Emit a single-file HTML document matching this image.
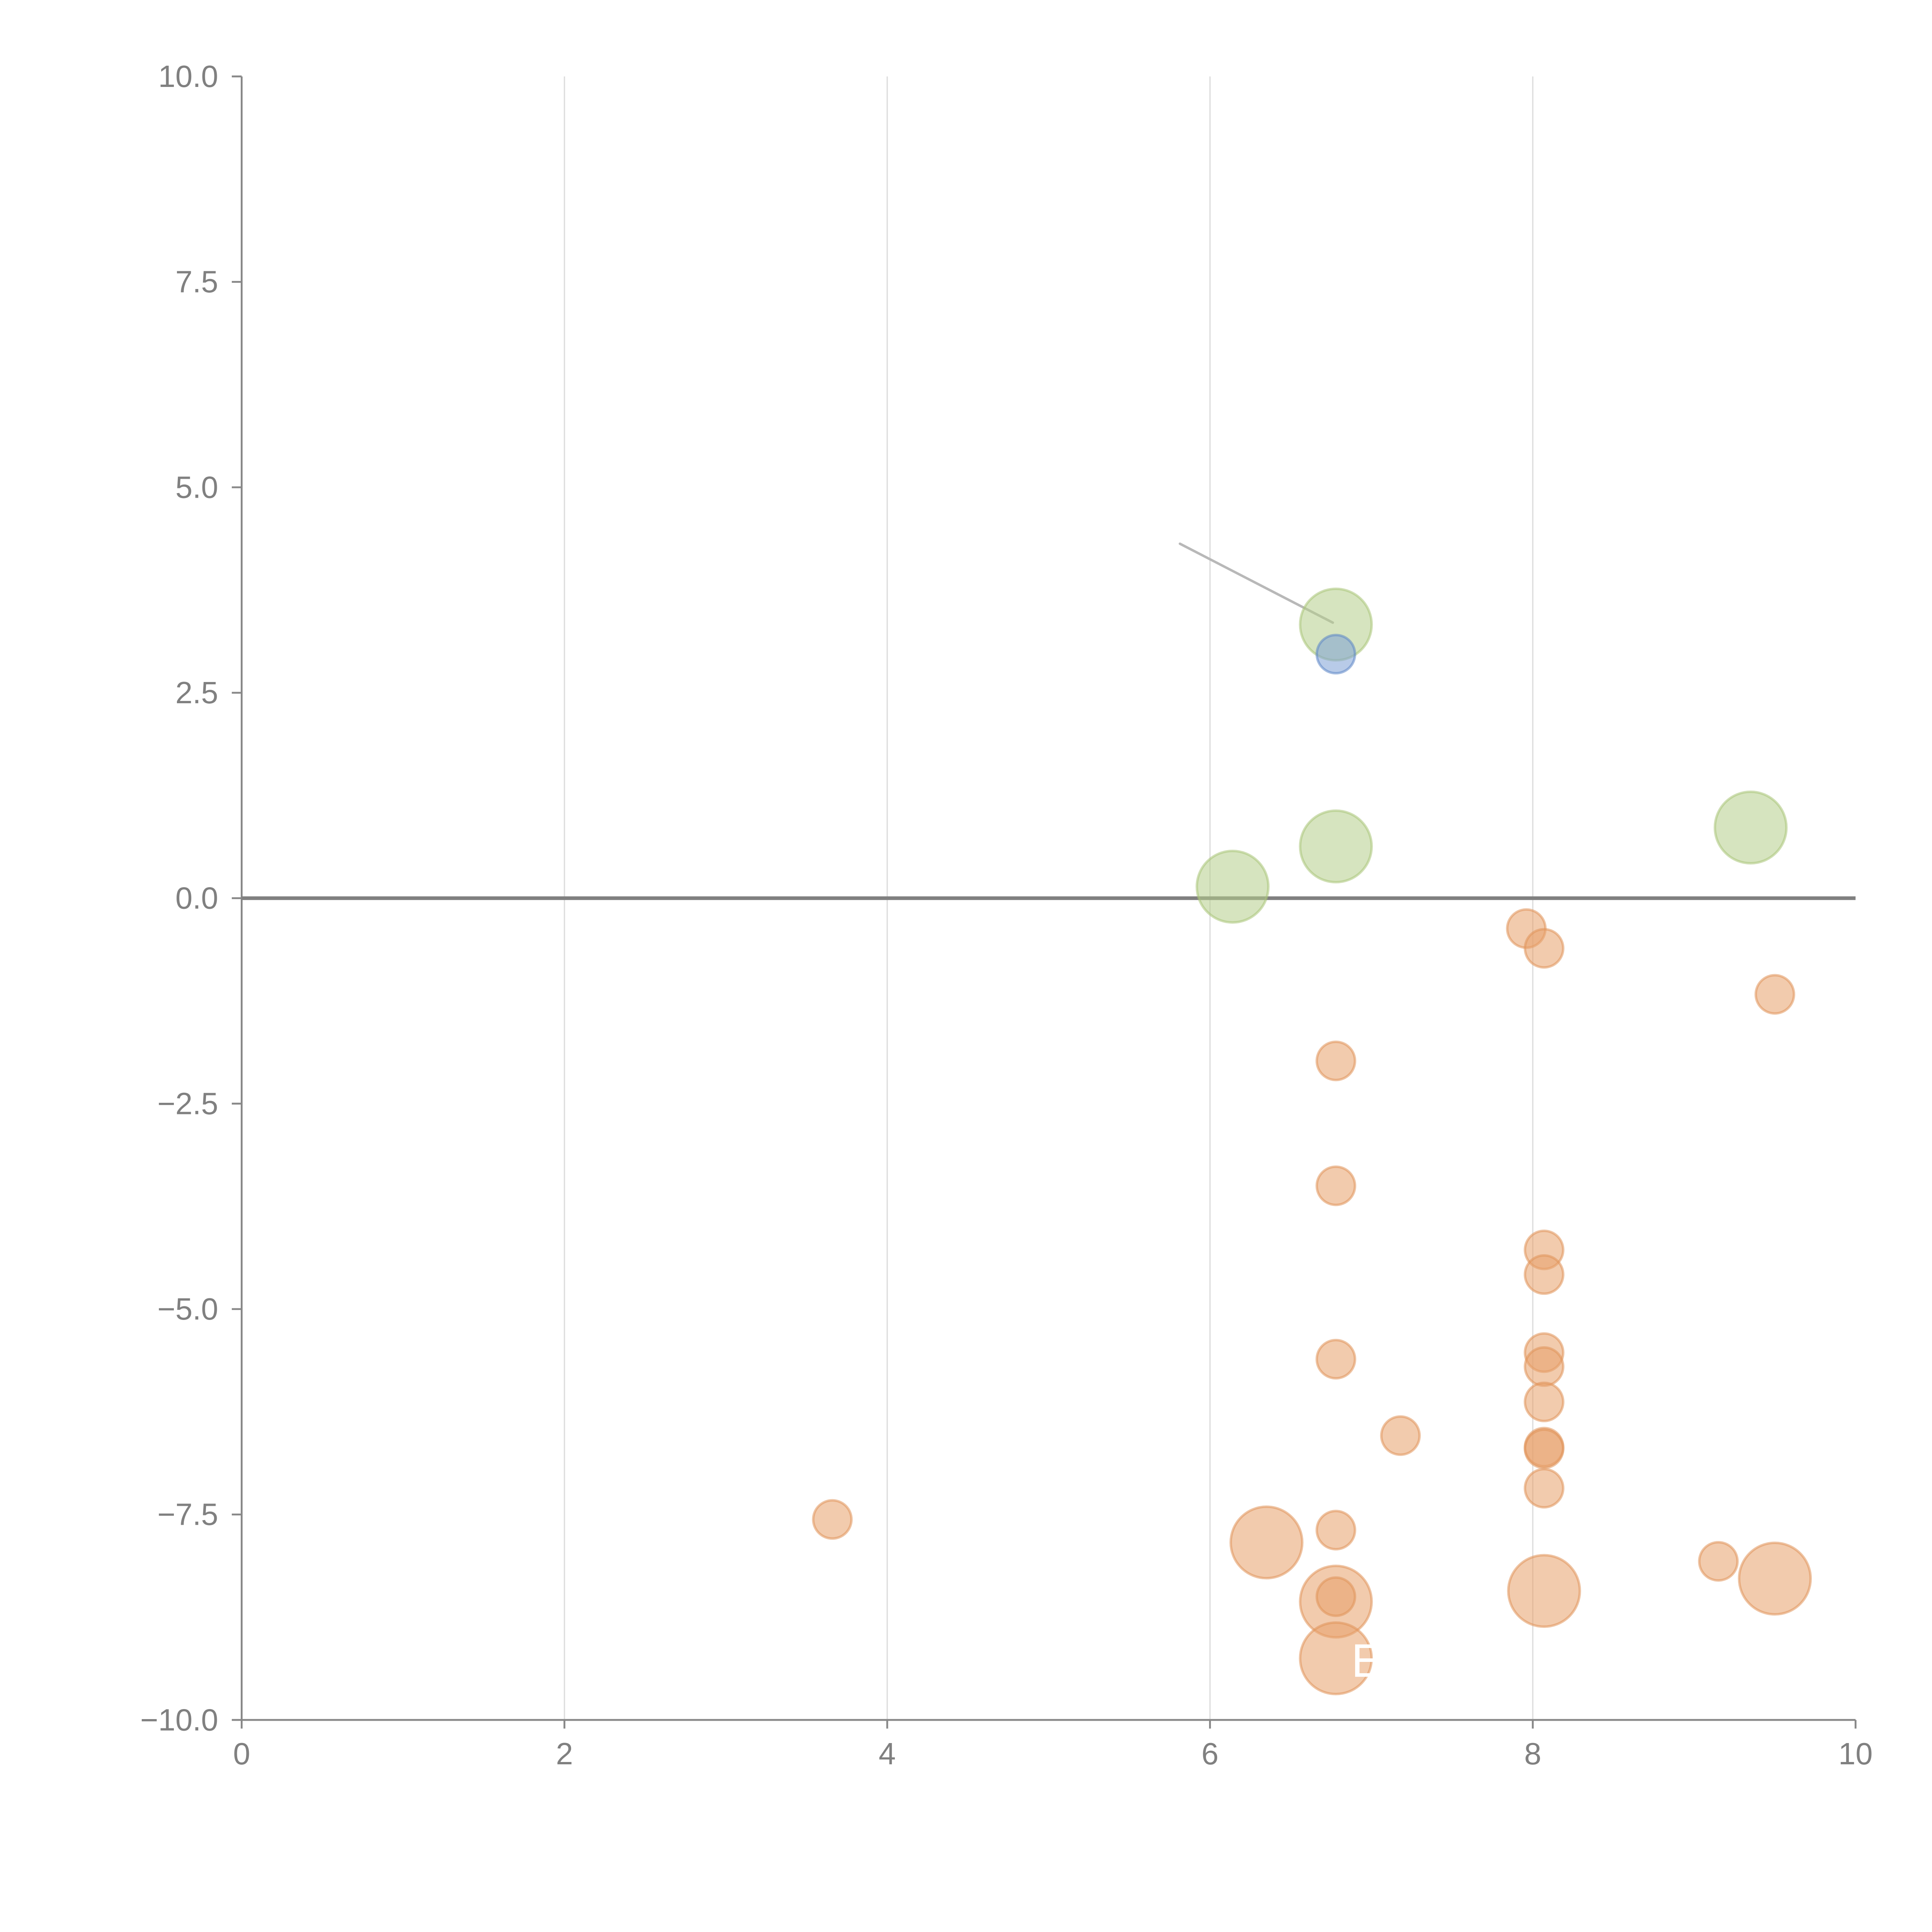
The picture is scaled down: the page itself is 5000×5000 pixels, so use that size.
<!DOCTYPE html>
<html><head><meta charset="utf-8"><style>
html,body{margin:0;padding:0;background:#fff;}
svg{display:block;}
text{font-family:"Liberation Sans",sans-serif;}
</style></head><body>
<svg id="chart" width="5000" height="5000" viewBox="0 0 1567 1567" xmlns="http://www.w3.org/2000/svg">
<g id="grid"></g>
<g id="axes"></g>
<line x1="957" y1="441" x2="1081" y2="505" stroke="#b8b8b8" stroke-width="2" stroke-linecap="round"/>
<g id="marks"></g>
<text x="1096" y="1360" fill="#fff" font-size="38">E</text>
</svg>
<script>
const xTicks = [0,2,4,6,8,10];
const yTicks = [-10,-7.5,-5,-2.5,0,2.5,5,7.5,10];
const yTickLabels = ["\u221210.0","\u22127.5","\u22125.0","\u22122.5","0.0","2.5","5.0","7.5","10.0"];
const greenX = [6.78,6.14,6.78,9.35];
const greenY = [3.33,0.14,0.63,0.86];
const blueX = [6.78];
const blueY = [2.97];
const orangeSmallX = [7.96,8.07,9.50,6.78,6.78,8.07,8.07,8.07,8.07,6.78,8.07,7.18,8.07,8.07,8.07,3.66,6.78,9.15];
const orangeSmallY = [-0.37,-0.61,-1.17,-1.98,-3.50,-4.28,-4.58,-5.53,-5.70,-5.61,-6.13,-6.54,-6.68,-6.70,-7.18,-7.56,-7.69,-8.07];
const orangeLargeX = [6.35,6.78,8.07,9.50,6.78];
const orangeLargeY = [-7.84,-8.56,-8.43,-8.28,-9.25];
const orangeInnerX = [6.78];
const orangeInnerY = [-8.50];

const NS="http://www.w3.org/2000/svg";
const X0=196,X1=1505,Y0=1395,Y1=62;
function sx(v){return X0+(v-0)/(10-0)*(X1-X0);}
function sy(v){return Y0-(v+10)/20*(Y0-Y1);}
function mk(tag,attrs,parent){const e=document.createElementNS(NS,tag);for(const k in attrs)e.setAttribute(k,attrs[k]);parent.appendChild(e);return e;}
const grid=document.getElementById('grid'),axes=document.getElementById('axes'),marks=document.getElementById('marks');

xTicks.forEach(t=>{
  if(t>0&&t<10){
    const g=mk('line',{x1:sx(t),x2:sx(t),y1:Y1,y2:Y0,stroke:'#dcdcdc','stroke-width':1},grid);
    
    
  }
  const tk=mk('line',{x1:sx(t),x2:sx(t),y1:Y0,y2:Y0+7,stroke:'#888','stroke-width':1.5},axes);
  
  
  const tx=mk('text',{x:sx(t),y:Y0+36,'text-anchor':'middle','font-size':25,fill:'#808080'},axes);
  tx.textContent=t;
  
  
});
yTicks.forEach((t,i)=>{
  const tk=mk('line',{x1:X0-8,x2:X0,y1:sy(t),y2:sy(t),stroke:'#888','stroke-width':1.5},axes);
  
  
  const tx=mk('text',{x:X0-19,y:sy(t)+8.5,'text-anchor':'end','font-size':25,fill:'#808080'},axes);
  tx.textContent=yTickLabels[i];
  
  
});
const ya=mk('line',{x1:X0,x2:X0,y1:Y1,y2:Y0,stroke:'#888','stroke-width':1.5},axes);


const xa=mk('line',{x1:X0,x2:X1,y1:Y0,y2:Y0,stroke:'#888','stroke-width':1.5},axes);


const zl=mk('line',{x1:X0,x2:X1,y1:sy(0),y2:sy(0),stroke:'#808080','stroke-width':3},axes);



function bubbles(xs,ys,r,fill,stroke,op,name){
  xs.forEach((x,i)=>{
    const c=mk('circle',{cx:sx(x),cy:sy(ys[i]),r:r,fill:fill,'fill-opacity':op,stroke:stroke,'stroke-opacity':0.55,'stroke-width':2},marks);
    
    
  });
}
bubbles(orangeLargeX,orangeLargeY,29,'#e8a06a','#e0945a',0.55,'bubble-orange-large');
bubbles(orangeSmallX,orangeSmallY,15.5,'#e8a06a','#e0945a',0.55,'bubble-orange');
bubbles(orangeInnerX,orangeInnerY,15.5,'#e8a06a','#e0945a',0.55,'bubble-orange');
bubbles(greenX,greenY,29,'#b5cd8a','#a9c578',0.55,'bubble-green');
bubbles(blueX,blueY,15.5,'#7ea0d6','#5d86c6',0.55,'bubble-blue');
</script>
</body></html>
